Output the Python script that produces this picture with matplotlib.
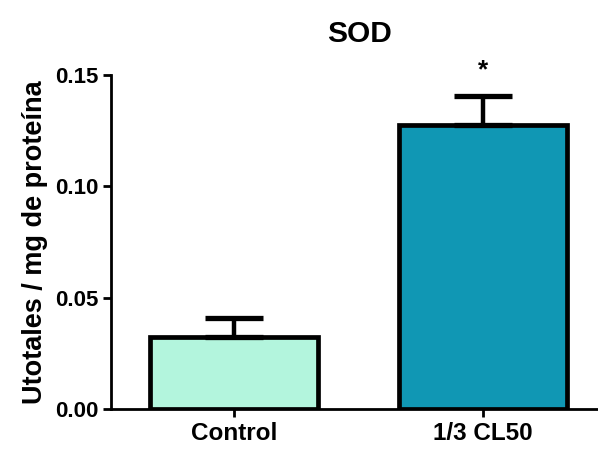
import matplotlib
matplotlib.use("Agg")
import matplotlib.pyplot as plt

categories = ["Control", "1/3 CL50"]
means = [0.0323, 0.1275]
errors = [0.0086, 0.0131]
colors = ["#b3f5dd", "#1097b4"]
yticks = [0.00, 0.05, 0.10, 0.15]

plt.rcParams['font.family'] = ['Liberation Sans', 'DejaVu Sans']
plt.rcParams['font.weight'] = 'bold'

fig = plt.figure(figsize=(5.98, 4.5), dpi=100)
ax = fig.add_axes([0.1856, 0.0911, 0.8144, 0.7422])

x = list(range(len(categories)))
ax.bar(x, means, width=0.672, color=colors, edgecolor='black', linewidth=3.4, zorder=2)
ax.errorbar(x, means, yerr=[[0, 0], errors], fmt='none', ecolor='black',
            elinewidth=3.2, capsize=21, capthick=3.8, zorder=3)
ax.text(1, means[1] + errors[1] + 0.0115, "*", ha='center', va='center', fontsize=19, fontweight='bold')

ax.set_xlim(-0.492, 1.46)
ax.set_ylim(0, 0.15)
ax.set_yticks(yticks)
ax.set_yticklabels([f"{v:.2f}" for v in yticks])
ax.set_xticks(x)
ax.set_xticklabels(categories)
ax.tick_params(axis='y', labelsize=16, width=2, length=6, direction='out', pad=3)
ax.tick_params(axis='x', labelsize=17.5, width=2, length=6, direction='out', pad=3)
for lab in ax.get_xticklabels() + ax.get_yticklabels():
    lab.set_fontweight('bold')
ax.spines['top'].set_visible(False)
ax.spines['right'].set_visible(False)
ax.spines['left'].set_linewidth(2)
ax.spines['bottom'].set_linewidth(2)
ax.set_ylabel("Utotales / mg de proteína", fontsize=19.5, fontweight='bold', labelpad=5)
ax.set_title("SOD", fontsize=21.5, fontweight='bold', pad=24, x=0.51)

fig.savefig("out.png", dpi=100)
